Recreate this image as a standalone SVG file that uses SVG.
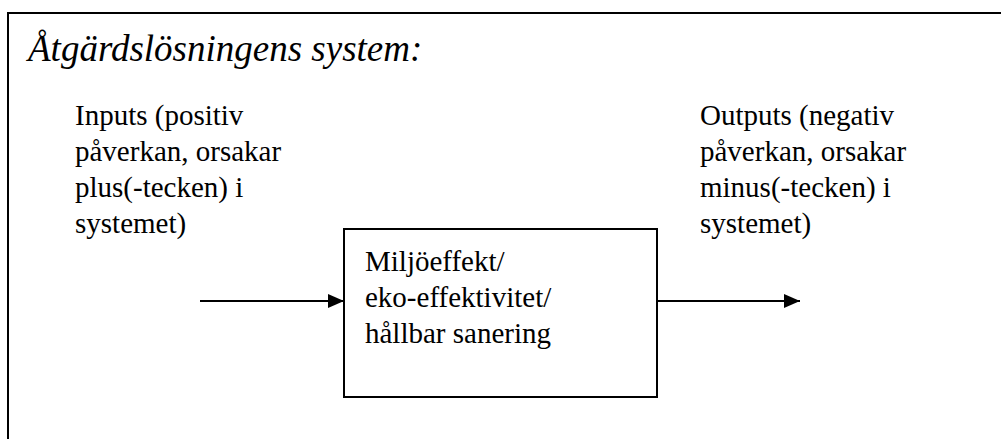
<svg xmlns="http://www.w3.org/2000/svg" width="1001" height="439" viewBox="0 0 1001 439">
  <style>
    .frame { fill: none; stroke: #000; stroke-width: 2; }
    .box { fill: #fff; stroke: #000; stroke-width: 2; }
    .conn { fill: none; stroke: #000; stroke-width: 2; }
  </style>
  <defs>
    <marker id="arrow" markerUnits="userSpaceOnUse" markerWidth="16" markerHeight="16" refX="16" refY="8" orient="auto">
      <path d="M0,1 L16,8 L0,15 Z" fill="#000"/>
    </marker>
  </defs>
  <rect width="1001" height="439" fill="#fff"/>
  <!-- outer frame: open to the right and bottom edges -->
  <path class="frame" d="M8,450 L8,13 L1010,13"/>
  <g font-family="Liberation Serif, serif" fill="#000">
    <text x="28" y="61" font-size="37" font-style="italic">Åtgärdslösningens system:</text>

    <g id="inputs" font-size="29">
      <text x="75" y="125">Inputs (positiv</text>
      <text x="75" y="161">påverkan, orsakar</text>
      <text x="75" y="197">plus(-tecken) i</text>
      <text x="75" y="233">systemet)</text>
    </g>

    <g id="outputs" font-size="29">
      <text x="700" y="125">Outputs (negativ</text>
      <text x="700" y="161">påverkan, orsakar</text>
      <text x="700" y="197">minus(-tecken) i</text>
      <text x="700" y="233">systemet)</text>
    </g>

    <g id="system" font-size="29">
      <rect class="box" x="344" y="229" width="313" height="168"/>
      <text x="365" y="271">Miljöeffekt/</text>
      <text x="365" y="307">eko-effektivitet/</text>
      <text x="365" y="343">hållbar sanering</text>
    </g>
  </g>

  <g id="connectors">
    <line class="conn" x1="200" y1="301" x2="344" y2="301" marker-end="url(#arrow)"/>
    <line class="conn" x1="657" y1="301" x2="800" y2="301" marker-end="url(#arrow)"/>
  </g>
</svg>
